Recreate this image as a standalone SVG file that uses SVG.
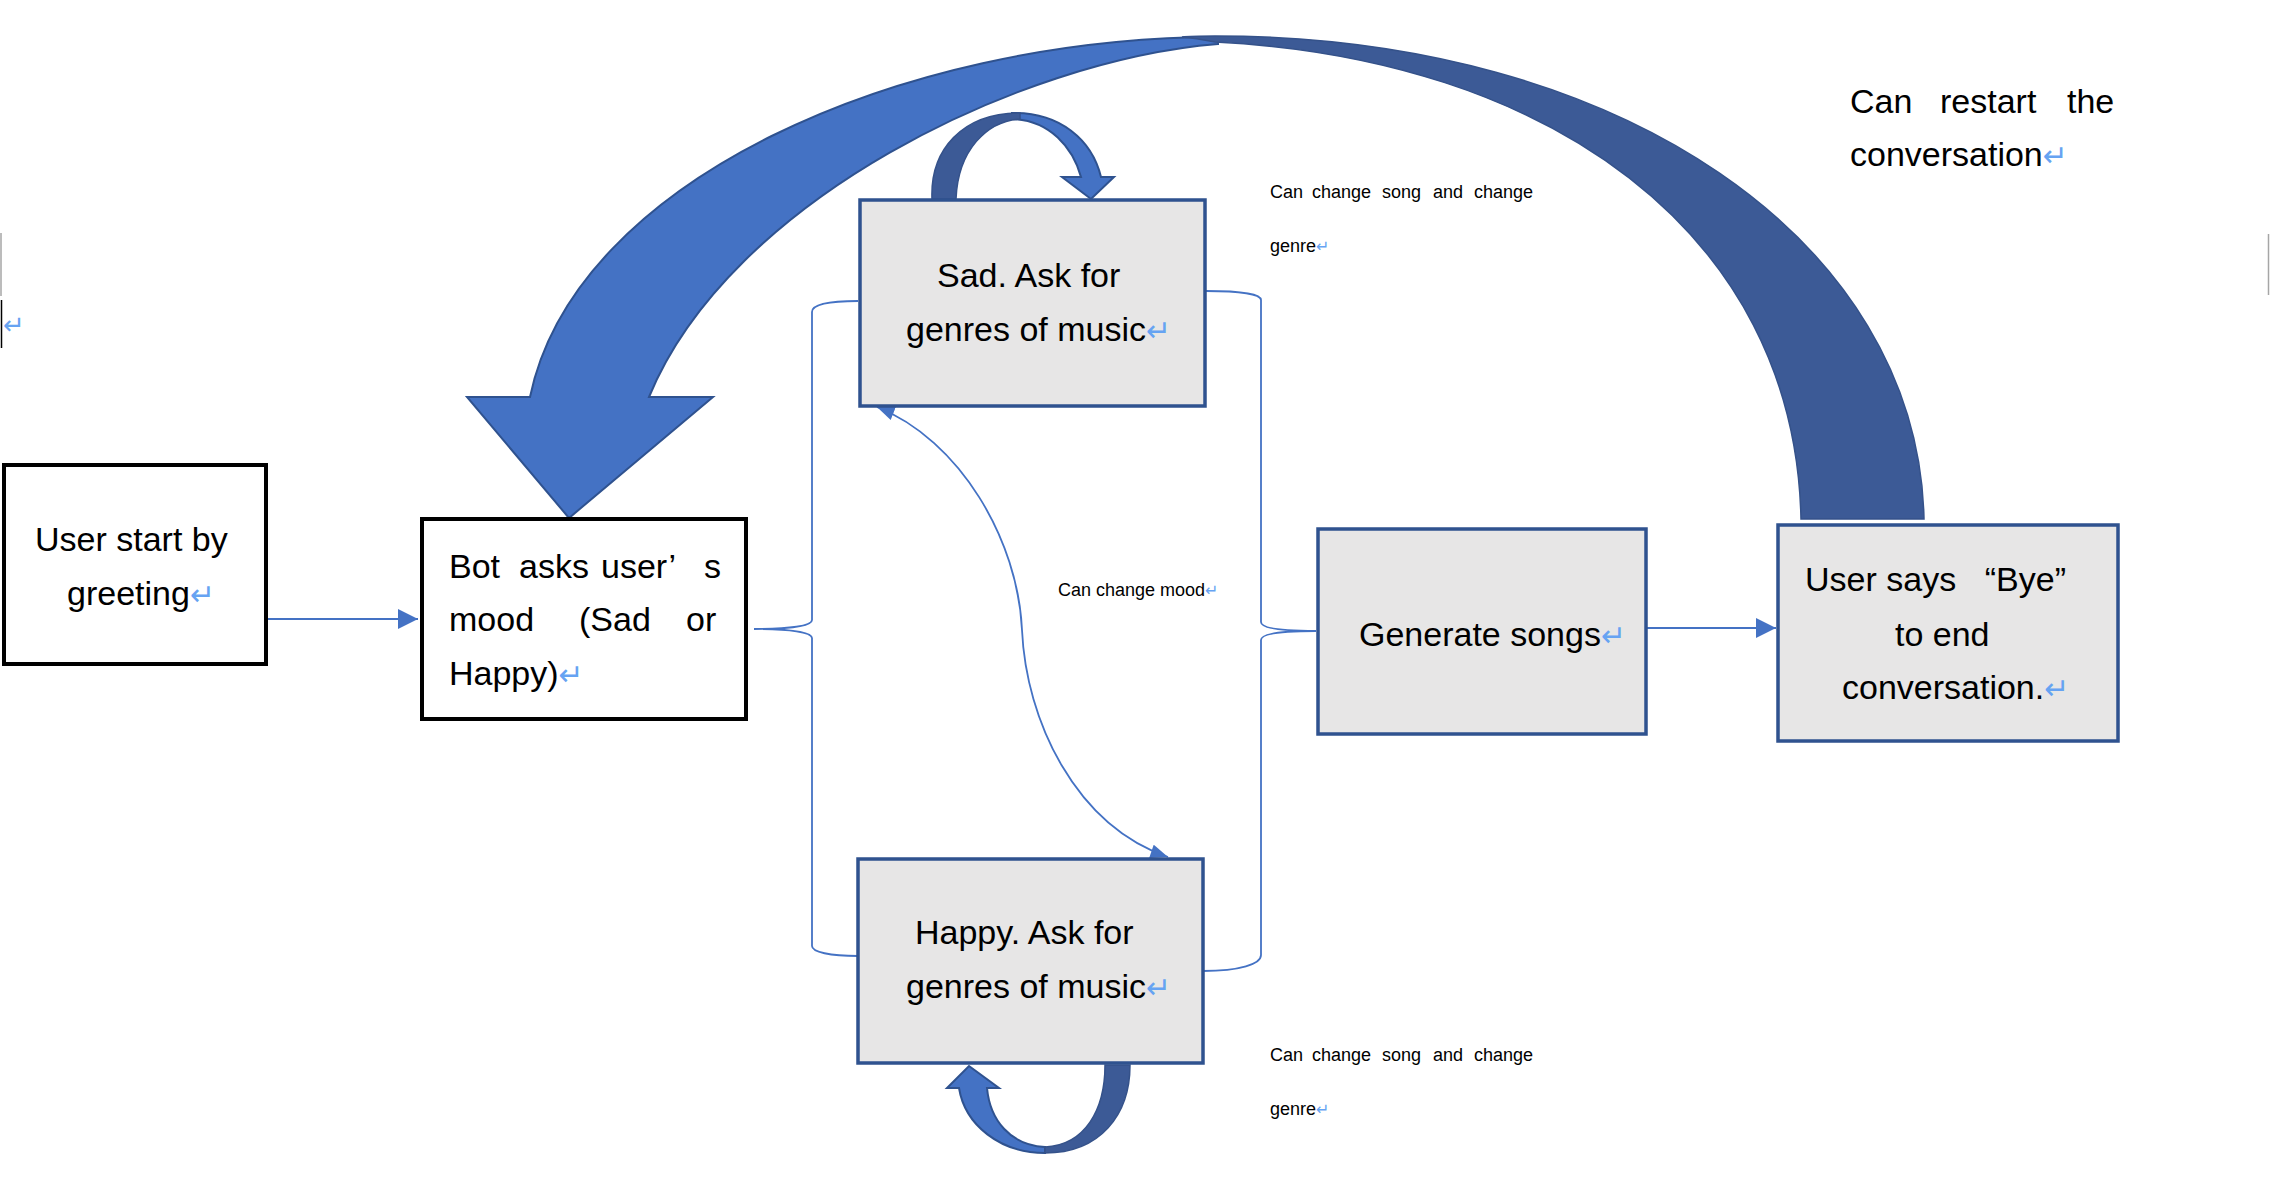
<svg xmlns="http://www.w3.org/2000/svg" width="2270" height="1194" viewBox="0 0 2270 1194">
<style>
.t{font-family:"Liberation Sans",Arial,"DejaVu Sans",sans-serif;font-size:34px;fill:#000}
.s{font-size:18px}
.r{fill:#66A3F2;font-family:"DejaVu Sans",sans-serif;font-size:30px}
.rs{fill:#66A3F2;font-family:"DejaVu Sans",sans-serif;font-size:16px}
.bw{fill:#fff;stroke:#000;stroke-width:4}
.bg{fill:#E7E6E6;stroke:#2F528F;stroke-width:3.5}
.ln{fill:none;stroke:#4472C4;stroke-width:1.8}
.lite{fill:#4472C4;stroke:#2F528F;stroke-width:2;stroke-linejoin:miter}
.dark{fill:#3C5A96;stroke:#35528A;stroke-width:1.5}
</style>
<defs>
<marker id="ah" viewBox="0 0 20 20" refX="20" refY="10" markerWidth="20" markerHeight="20" orient="auto-start-reverse" markerUnits="userSpaceOnUse">
<path d="M0,0 L20,10 L0,20 Z" fill="#4472C4"/>
</marker>
<marker id="ahs" viewBox="0 0 20 16" refX="20" refY="8" markerWidth="18" markerHeight="14" orient="auto-start-reverse" markerUnits="userSpaceOnUse">
<path d="M0,0 L20,8 L0,16 Z" fill="#4472C4"/>
</marker>
</defs>
<rect width="2270" height="1194" fill="#fff"/>

<g id="edge-marks">
<line x1="1" y1="233" x2="1" y2="296" stroke="#A6A6A6" stroke-width="1.5"/>
<line x1="1.5" y1="300" x2="1.5" y2="348" stroke="#000" stroke-width="1.5"/>
<text x="3" y="334" class="r" style="font-size:26px">↵</text>
<line x1="2268.5" y1="234" x2="2268.5" y2="295" stroke="#A6A6A6" stroke-width="1.5"/>
</g>

<g id="connectors">
<line class="ln" x1="268" y1="619" x2="418" y2="619" marker-end="url(#ah)"/>
<line class="ln" x1="1646" y1="628" x2="1776" y2="628" marker-end="url(#ah)"/>
<path class="ln" d="M858,301 C830,301 812,304 812,312 L812,620 C812,626 790,629 754,629 C790,629 812,632 812,638 L812,946 C812,952 830,956 858,956"/>
<path class="ln" d="M1206,291 C1240,291 1261,294 1261,300 L1261,622 C1261,628 1280,631 1316,631 C1280,631 1261,634 1261,640 L1261,955 C1261,964 1240,971 1203,971"/>
<path class="ln" d="M877,407 C960,440 1018,540 1022,630 C1026,720 1075,825 1168,857" marker-start="url(#ahs)" marker-end="url(#ahs)"/>
<g id="restart-arrow">
<path class="lite" d="M530,397 C575,180 900,38 1218,37 L1218,44 C1020,60 730,200 649,397 L713,397 L569,518 L467,397 Z"/>
<path class="dark" d="M1924,519 C1918,240 1620,36 1215,36 C1200,36 1190,36 1182,37 C1195,38 1205,40 1215,42 C1545,58 1795,230 1801,519 Z"/>
</g>
<g id="sad-loop">
<path class="lite" d="M1012,113 C1060,112 1092,140 1101,177 L1114,177 L1091,199 L1062,177 L1081,177 C1073,148 1050,120 1012,119 Z"/>
<path class="dark" d="M932,199 C930,150 962,113 1020,113 L1020,119 C987,121 958,150 956,199 Z"/>
</g>
<g id="happy-loop">
<path class="lite" d="M969,1066 L999,1088 L987,1088 C990,1120 1010,1145 1045,1147 L1045,1153 C1000,1153 965,1125 959,1088 L947,1088 Z"/>
<path class="dark" d="M1045,1153 C1100,1153 1130,1115 1130,1065 L1105,1065 C1105,1110 1085,1145 1045,1147 Z"/>
</g>
</g>

<g id="node-user-start">
<rect class="bw" x="4" y="465" width="262" height="199"/>
<text class="t" x="35" y="551">User start by</text>
<text class="t" x="67" y="605">greeting<tspan class="r">↵</tspan></text>
</g>

<g id="node-bot-asks">
<rect class="bw" x="422" y="519" width="324" height="200"/>
<text class="t" y="578"><tspan x="449">Bot</tspan><tspan x="519">asks</tspan><tspan x="601">user’</tspan><tspan x="704">s</tspan></text>
<text class="t" y="631"><tspan x="449">mood</tspan><tspan x="579">(Sad</tspan><tspan x="686">or</tspan></text>
<text class="t" x="449" y="685">Happy)<tspan class="r">↵</tspan></text>
</g>

<g id="node-sad">
<rect class="bg" x="860" y="200" width="345" height="206"/>
<text class="t" x="937" y="287">Sad. Ask for</text>
<text class="t" x="906" y="341">genres of music<tspan class="r">↵</tspan></text>
</g>

<g id="node-happy">
<rect class="bg" x="858" y="859" width="345" height="204"/>
<text class="t" x="915" y="944">Happy. Ask for</text>
<text class="t" x="906" y="998">genres of music<tspan class="r">↵</tspan></text>
</g>

<g id="node-generate">
<rect class="bg" x="1318" y="529" width="328" height="205"/>
<text class="t" x="1359" y="646">Generate songs<tspan class="r">↵</tspan></text>
</g>

<g id="node-bye">
<rect class="bg" x="1778" y="525" width="340" height="216"/>
<text class="t" x="1805" y="591">User says</text>
<text class="t" x="2066" y="591" text-anchor="end">“Bye”</text>
<text class="t" x="1895" y="646">to end</text>
<text class="t" x="1842" y="699">conversation.<tspan class="r">↵</tspan></text>
</g>

<g id="labels">
<text class="t s" y="198"><tspan x="1270">Can</tspan><tspan x="1312">change</tspan><tspan x="1382">song</tspan><tspan x="1433">and</tspan><tspan x="1474">change</tspan></text>
<text class="t s" x="1270" y="252">genre<tspan class="rs">↵</tspan></text>
<text class="t s" y="1061"><tspan x="1270">Can</tspan><tspan x="1312">change</tspan><tspan x="1382">song</tspan><tspan x="1433">and</tspan><tspan x="1474">change</tspan></text>
<text class="t s" x="1270" y="1115">genre<tspan class="rs">↵</tspan></text>
<text class="t s" x="1058" y="596">Can change mood<tspan class="rs">↵</tspan></text>
<text class="t" y="113"><tspan x="1850">Can</tspan><tspan x="1940">restart</tspan><tspan x="2067">the</tspan></text>
<text class="t" x="1850" y="166">conversation<tspan class="r">↵</tspan></text>
</g>
</svg>
